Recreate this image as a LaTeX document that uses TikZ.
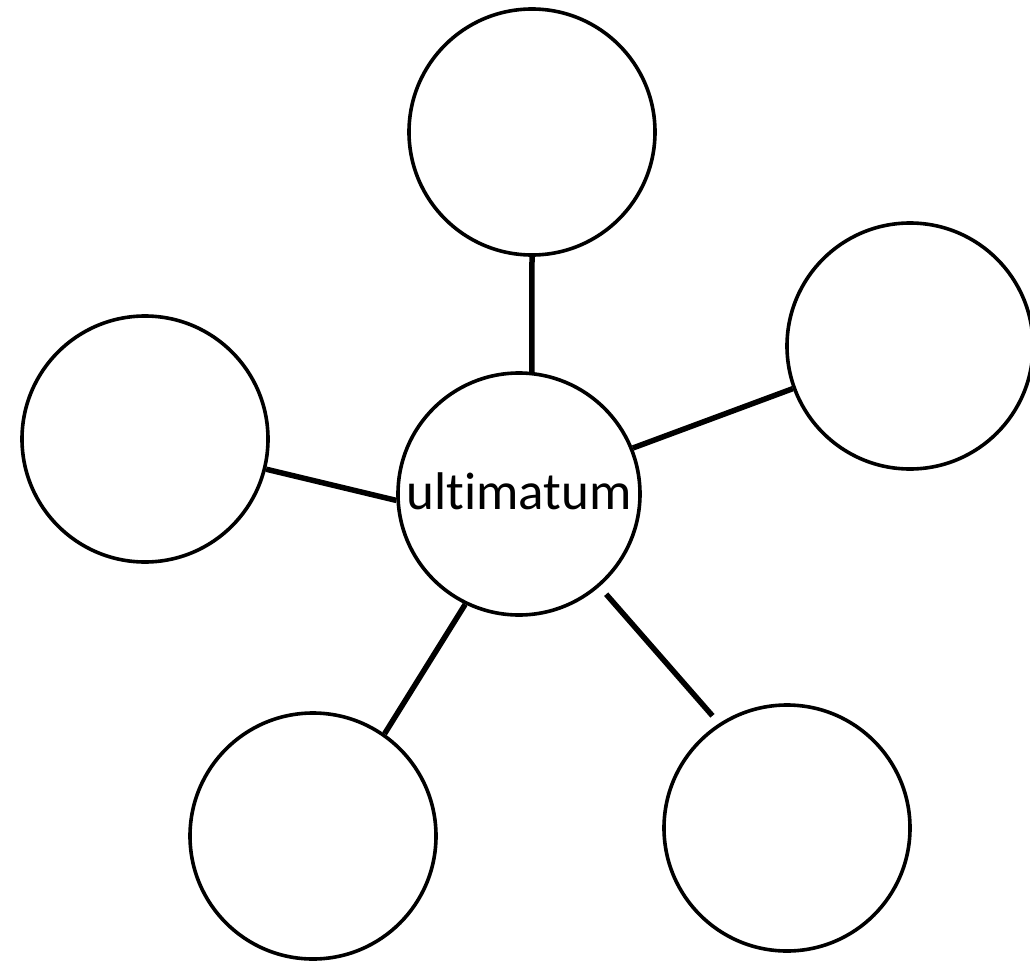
\documentclass[tikz,border=0pt]{standalone}
\usepackage{fontspec}
\setmainfont[Ligatures=NoCommon]{Carlito}
\begin{document}
\begin{tikzpicture}[x=1pt,y=-1pt,
  bubble/.style={circle,draw=black,line width=3.6pt,minimum size=246pt,inner sep=0pt},
  hub/.style={bubble,minimum size=242pt,font=\fontsize{53}{60}\selectfont,text depth=6pt},
  link/.style={draw=black,line width=5.5pt}]
\useasboundingbox (0,0) rectangle (1030,963);
\node[hub] (c) at (519,494) {ultimatum};
\node[bubble] (t) at (532,132) {};
\node[bubble] (r) at (910,346) {};
\node[bubble] (l) at (145,439) {};
\node[bubble] (bl) at (313,836) {};
\node[bubble] (br) at (787,828) {};
\draw[link] (t.south) -- (c.84);
\draw[link] (l.-14) -- (c.183);
\draw[link] (c.22) -- (r.200);
\draw[link] (c.244) -- (bl.55);
\draw[link,shorten <=10pt,shorten >=10pt] (c.-49) -- (br.123);
\end{tikzpicture}
\end{document}
